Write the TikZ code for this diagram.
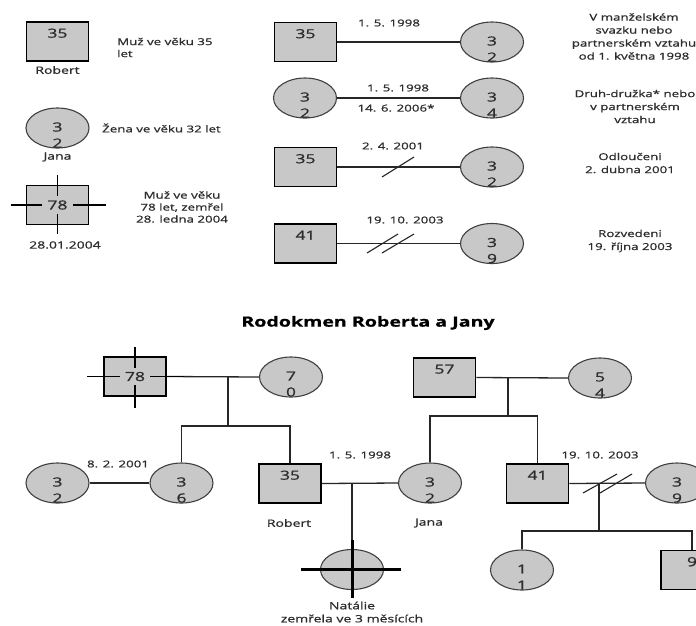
\documentclass[tikz,border=0pt]{standalone}
\usepackage{fontspec}
\setmainfont{Open Sans}[FakeStretch=1.4,FakeBold=1]
\usetikzlibrary{shapes.geometric,calc}
\definecolor{boxgray}{RGB}{200,200,200}
\definecolor{txt}{RGB}{45,45,45}
\tikzset{
  male/.style={draw=black, line width=1.6pt, fill=boxgray, minimum width=62pt, minimum height=39pt, inner sep=0pt},
  female/.style={ellipse, draw=black!75, line width=1.1pt, fill=boxgray, minimum width=63pt, minimum height=40pt, inner sep=0pt},
  num/.style={text=txt, font=\fontsize{12.5}{14}\selectfont, inner sep=0pt},
  lbl/.style={text=txt, font=\fontsize{10}{12}\selectfont, inner sep=0pt},
  legtext/.style={text=txt, font=\fontsize{9.5}{13}\selectfont, inner sep=0pt, align=center},
  legtextb/.style={text=txt, font=\fontsize{9.5}{12}\selectfont, inner sep=0pt, align=center},
  datelbl/.style={text=txt, font=\fontsize{9.5}{11}\selectfont, inner sep=0pt},
  conn/.style={line width=1.3pt, black!85},
  slash/.style={line width=1.1pt, black!85},
  crossline/.style={line width=1.3pt, black},
  deadcross/.style={line width=3pt, black},
  titlestyle/.style={text=black, font=\bfseries\fontsize{14}{16}\selectfont, inner sep=0pt}
}
\newcommand{\femnode}[4]{%
  \node[female] (#1) at #2 {};
  \node[num] at ($(#1.center)+(0,-1)$) {#3};
  \node[num] at ($(#1.center)+(0,15)$) {#4};}
\newcommand{\malenode}[3]{%
  \node[male] (#1) at #2 {};
  \node[num] at ($(#1.north)+(0,12)$) {#3};}
\begin{document}
\begin{tikzpicture}[x=1pt,y=-1pt]
\clip (0,0) rectangle (696,625);
\fill[white] (0,0) rectangle (696,625);

% ---------- left legend ----------
\malenode{lrob}{(57.5,41.5)}{35}
\node[lbl] at (57.5,70) {Robert};
\node[legtextb, align=left, anchor=west] at (117,47.5) {Muž ve věku 35\\let};

\femnode{ljana}{(57.5,128)}{3}{2}
\node[lbl] at (57.5,157) {Jana};
\node[legtext, anchor=west] at (102,128) {Žena ve věku 32 let};

\node[male] (l78) at (57.5,205) {};
\draw[crossline] ($(l78.north)+(0,-10)$) -- ($(l78.south)+(0,9)$);
\draw[crossline] ($(l78.west)+(-15,0)$) -- ($(l78.east)+(17,0)$);
\node[num, fill=boxgray, inner xsep=5pt, inner ysep=4pt] at (l78.center) {78};
\node[lbl] at (65,245) {28.01.2004};
\node[legtextb] at (182,207) {Muž ve věku\\78 let, zemřel\\28. ledna 2004};

% ---------- right legend ----------
\malenode{ra1}{(305.5,42)}{35}
\femnode{rb1}{(492,42)}{3}{2}
\draw[conn] (ra1.east) -- (rb1.west);
\node[datelbl] at (389,23) {1. 5. 1998};
\node[legtext] at (634,36.5) {V manželském\\svazku nebo\\partnerském vztahu\\od 1. května 1998};

\femnode{ra2}{(305,98)}{3}{2}
\femnode{rb2}{(492,98)}{3}{4}
\draw[conn] (ra2.east) -- (rb2.west);
\node[datelbl] at (398,88) {1. 5. 1998};
\node[datelbl] at (396,108) {14. 6. 2006*};
\node[legtext] at (635,106.5) {Druh-družka* nebo\\v partnerském\\vztahu};

\malenode{ra3}{(305.5,167)}{35}
\femnode{rb3}{(492,167)}{3}{2}
\draw[conn] (ra3.east) -- (rb3.west);
\draw[slash] (382,177) -- (414,157);
\node[datelbl] at (393,146) {2. 4. 2001};
\node[legtext] at (630,163) {Odloučeni\\2. dubna 2001};

\malenode{ra4}{(305.5,243.5)}{41}
\femnode{rb4}{(492,243.5)}{3}{9}
\draw[conn] (ra4.east) -- (rb4.west);
\draw[slash] (367,253) -- (398,234);
\draw[slash] (382,253) -- (414,234);
\node[datelbl] at (405,220) {19. 10. 2003};
\node[legtext] at (630,241) {Rozvedeni\\19. října 2003};

% ---------- title ----------
\node[titlestyle] at (368,323) {Rodokmen Roberta a Jany};

% ---------- pedigree ----------
\node[male] (g78) at (135,376.5) {};
\femnode{g70}{(291,377)}{7}{0}
\draw[conn] (g78.east) -- (g70.west);
\draw[crossline] ($(g78.north)+(0,-9)$) -- ($(g78.south)+(0,11)$);
\draw[crossline] ($(g78.west)+(-16,0)$) -- ($(g78.east)+(17,0)$);
\node[num, fill=boxgray, inner xsep=5pt, inner ysep=4pt] at (g78.center) {78};

\malenode{g57}{(444.5,377.5)}{57}
\femnode{g54}{(600,378)}{5}{4}
\draw[conn] (g57.east) -- (g54.west);

\femnode{g32}{(57.5,483)}{3}{2}
\femnode{g36}{(181.5,483)}{3}{6}
\draw[conn] (g32.east) -- (g36.west);
\node[datelbl] at (118,464) {8. 2. 2001};

\malenode{g35}{(290,483.5)}{35}
\node[lbl] at (289,523) {Robert};
\femnode{gjana}{(430,483)}{3}{2}
\node[lbl] at (429,523) {Jana};
\draw[conn] (g35.east) -- (gjana.west);
\node[datelbl] at (360,455) {1. 5. 1998};

\malenode{g41}{(537.5,483.5)}{41}
\femnode{g39}{(677,483)}{3}{9}
\draw[conn] (g41.east) -- (g39.west);
\node[datelbl] at (600,455) {19. 10. 2003};

\femnode{g11}{(522,570)}{1}{1}
\malenode{g9}{(692,570)}{9}

\node[female] (gnat) at (352,569.5) {};
\node[lbl, align=center, font=\fontsize{10}{13}\selectfont] at (352,612) {Natálie\\zemřela ve 3 měsících};

% family lines
\coordinate (m1) at (228,377);
\coordinate (b1) at (228,426);
\draw[conn] (m1) -- (b1);
\draw[conn] (g36.north) |- (b1) -| (g35.north);

\coordinate (m2) at (508,378);
\coordinate (b2) at (508,416);
\draw[conn] (m2) -- (b2);
\draw[conn] (gjana.north) |- (b2) -| (g41.north);

\coordinate (m3) at (352,483);
\draw[conn] (m3) -- (gnat.north);
\draw[deadcross] ($(gnat.north)+(0,-9)$) -- ($(gnat.south)+(0,8)$);
\draw[deadcross] ($(gnat.west)+(-19,0)$) -- ($(gnat.east)+(17,0)$);

\coordinate (m4) at (599,483);
\coordinate (b4) at (599,531);
\draw[conn] (m4) -- (b4);
\draw[conn] (g11.north) |- (b4) -| (g9.north);
\draw[slash] (583,493) -- (617,474);
\draw[slash] (600,493) -- (632,474);
\end{tikzpicture}
\end{document}
